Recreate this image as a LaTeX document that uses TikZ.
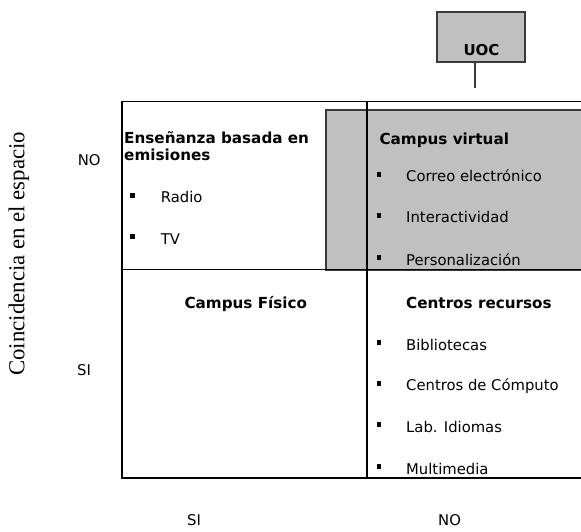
\documentclass[tikz,border=0pt]{standalone}
\usepackage{fontspec}
\setmainfont{DejaVu Sans}
\newfontfamily\serifrot{Liberation Serif}
\begin{document}
\begin{tikzpicture}[x=1pt,y=-1pt,
  grid/.style={line width=1.5pt,black},
  graybox/.style={fill=boxgray,draw=edgegray,line width=1.3pt},
  txt/.style={anchor=base west,inner sep=0pt,font=\fontsize{14.8}{16}\selectfont},
  ttl/.style={anchor=base west,inner sep=0pt,font=\fontsize{15.2}{16}\selectfont\bfseries},
  bul/.style={fill=black,draw=none,minimum width=4.5pt,minimum height=5pt,inner sep=0pt,anchor=south west}
]
\definecolor{boxgray}{HTML}{C0C0C0}
\definecolor{edgegray}{HTML}{3A3A3A}
\useasboundingbox (0,0) rectangle (581,531);
\clip (0,0) rectangle (581,531);
% gray campus virtual box
\draw[graybox] (326,110) rectangle (600,270.5);
% UOC box
\node[graybox,minimum width=88pt,minimum height=50pt,inner sep=0pt] (uoc) at (481,37) {};
\node[inner sep=0pt,anchor=base,font=\fontsize{15}{15}\selectfont\bfseries] (uoct) at (481.5,55.5) {UOC};
\coordinate (uocend) at (475,88);
\draw[line width=1.2pt,edgegray] (uoc.south -| uocend) -- (uocend);
% grid
\coordinate (tl) at (122,101.5);
\coordinate (tr) at (600,101.5);
\coordinate (bl) at (122,478);
\coordinate (br) at (600,478);
\coordinate (ml) at (122,269.5);
\coordinate (mr) at (600,269.5);
\coordinate (vt) at (367,100.5);
\coordinate (vb) at (367,478);
\draw[grid] (tr) -- (tl) -- (bl) -- (br);
\draw[grid] (ml) -- (mr);
\draw[grid] (vt) -- (vb);
% left top cell
\node[ttl] (t1) at (124,143.5) {Enseñanza basada en};
\node[ttl] (t1b) at (124,160) {emisiones};
\node[bul] (b1) at (130,198) {};
\node[txt] (radio) at (160.7,202.7) {Radio};
\node[bul] (b2) at (130,239.6) {};
\node[txt] (tv) at (160.7,244.3) {TV};
% right top cell
\node[ttl] (t2) at (379.3,144.3) {Campus virtual};
\node[bul] (b3) at (376.7,177) {};
\node[txt] (c1) at (406,181.7) {Correo electrónico};
\node[bul] (b4) at (376.7,218) {};
\node[txt] (c2) at (406,222.7) {Interactividad};
\node[bul] (b5) at (376.7,260.3) {};
\node[txt] (c3) at (406,265) {Personalización};
% bottom left cell
\node[ttl,anchor=base] (t3) at (245.8,308.3) {Campus Físico};
% bottom right cell
\node[ttl] (t4) at (406,308.3) {Centros recursos};
\node[bul] (b6) at (376.7,345.3) {};
\node[txt] (d1) at (406,350) {Bibliotecas};
\node[bul] (b7) at (376.7,386) {};
\node[txt] (d2) at (406,390.7) {Centros de Cómputo};
\node[bul] (b8) at (376.7,427.6) {};
\node[txt] (d3) at (406,432.3) {Lab. Idiomas};
\node[bul] (b9) at (376.7,469.3) {};
\node[txt] (d4) at (406,474) {Multimedia};
% axis labels
\node[txt] (lno) at (77.7,165) {NO};
\node[txt] (lsi) at (77,375) {SI};
\node[txt] (bsi) at (187,525.5) {SI};
\node[txt] (bno) at (438,525.5) {NO};
\node[rotate=90,inner sep=0pt,font=\serifrot\fontsize{22.8}{24}\selectfont] (axis) at (19,253.8) {Coincidencia en el espacio};
\end{tikzpicture}
\end{document}
